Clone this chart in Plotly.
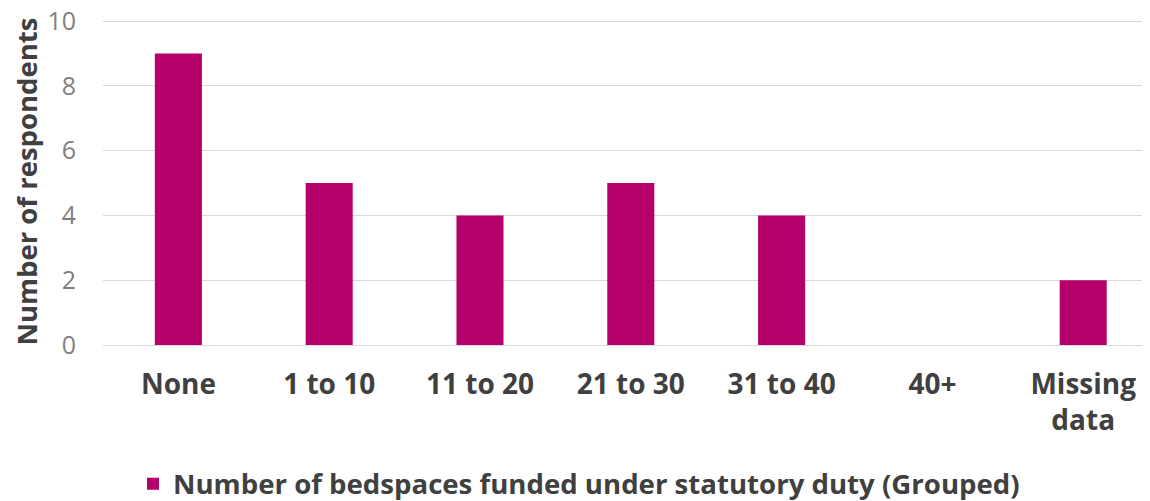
import plotly.graph_objects as go

categories = ["None", "1 to 10", "11 to 20", "21 to 30", "31 to 40", "40+", "Missing<br>data"]
values = [9, 5, 4, 5, 4, 0, 2]
series_name = "Number of bedspaces funded under statutory duty (Grouped)"
y_title = "Number of respondents"
y_ticks = [0, 2, 4, 6, 8, 10]

FONT = "Open Sans, Noto Sans, sans-serif"
BAR = "#B5006B"

fig = go.Figure(go.Bar(x=categories, y=values, name=series_name,
                       marker=dict(color=BAR, line=dict(width=0)),
                       showlegend=True))

# page body has an 8px margin, so the figure is sized to the visible area;
# the reference plot runs past the right edge, so the category axis is cut off there
fig.update_layout(
    width=1142, height=493,
    margin=dict(l=95, r=0, t=10, b=156, autoexpand=False),
    paper_bgcolor="white", plot_bgcolor="white",
    font=dict(family=FONT),
    bargap=0.688,
    showlegend=True,
    legend=dict(orientation="h", xref="container", yref="container",
                x=0.5, xanchor="center", y=0.035, yanchor="middle",
                font=dict(size=27.6, color="#404040", family=FONT, weight="bold"),
                itemwidth=30),
    xaxis=dict(range=[-0.5, 6.443],
               tickfont=dict(size=28, color="#404040", family=FONT, weight="bold"),
               showgrid=False, showline=False, ticks="", ticklabelstandoff=20),
    yaxis=dict(range=[0, 10.093], tickvals=y_ticks, showgrid=True, gridcolor="#D9D9D9",
               gridwidth=1.3, zeroline=True, zerolinecolor="#D9D9D9", zerolinewidth=1.3,
               tickfont=dict(size=25, color="#7F7F7F", family=FONT),
               ticklabelstandoff=26, ticklabeloverflow="allow",
               title=dict(text=y_title, standoff=16,
                          font=dict(size=27.5, color="#404040", family=FONT, weight="bold"))),
)

fig.write_html("out.html")
